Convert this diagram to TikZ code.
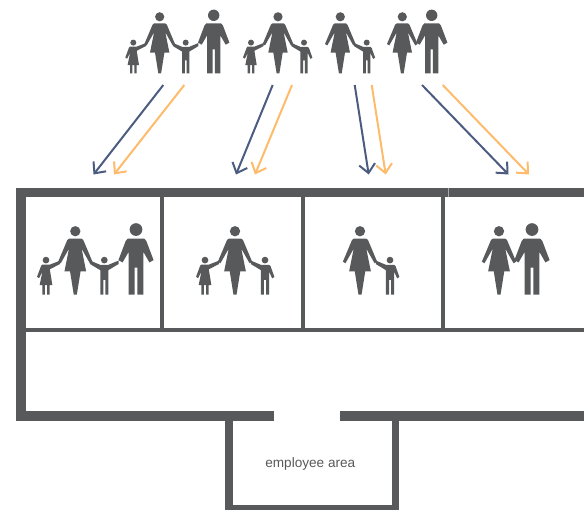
\documentclass[tikz,border=0pt]{standalone}
\usepackage{fontspec}
\setmainfont{Liberation Sans}
\usetikzlibrary{arrows.meta}
\definecolor{wallgray}{HTML}{58595B}
\definecolor{seamgray}{HTML}{A8A9AB}
\definecolor{arrowblue}{HTML}{4C5C80}
\definecolor{arroworange}{HTML}{FDBB6B}
\tikzset{
  x=0.75pt,y=-0.75pt,
  wall/.style={fill=wallgray,draw=none},
  figure part/.style={fill=wallgray,draw=none},
  flow/.style={line width=1.5pt,-{Straight Barb[length=6.6pt,width=12pt,line width=1.5pt]}},
  blueflow/.style={flow,draw=arrowblue},
  orangeflow/.style={flow,draw=arroworange},
  pics/man/.style={code={
    \begin{scope}[yscale=-1]
      \fill[figure part] (0,58) circle[radius=5.7];
      \fill[figure part] (-7.3,50) -- (7.3,50) -- (9.2,47.8) -- (15.7,30.7) -- (12,28.6) -- (6.6,38) -- (6.6,0) -- (1.2,0) -- (1.2,24) -- (-1.2,24) -- (-1.2,0) -- (-6.6,0) -- (-6.6,38) -- (-12,28.6) -- (-15.7,30.7) -- (-9.2,47.8) -- cycle;
    \end{scope}}},
  pics/woman/.style={code={
    \begin{scope}[yscale=-1]
      \fill[figure part] (0,56.5) circle[radius=4.6];
      \fill[figure part] (-5.5,50) -- (5.5,50) -- (7.2,48.5) -- (15.3,29.3) -- (13,27.9) -- (5.6,41) -- (9.7,20.7) -- (4.7,20.7) -- (1.4,0) -- (-1.4,0) -- (-4.7,20.7) -- (-9.7,20.7) -- (-5.6,41) -- (-13,27.9) -- (-15.3,29.3) -- (-7.2,48.5) -- cycle;
    \end{scope}}},
  pics/girl/.style={code={
    \begin{scope}[yscale=-1]
      \fill[figure part] (0,30.7) circle[radius=3];
      \fill[figure part] (-3.5,26.7) -- (3.5,26.7) -- (12.7,30.3) -- (12.7,27.3) -- (3.4,22.5) -- (5.7,8.3) -- (3.3,8.3) -- (3.3,0) -- (1,0) -- (1,8.3) -- (-1,8.3) -- (-1,0) -- (-3.3,0) -- (-3.3,8.3) -- (-5.7,8.3) -- (-3.2,20.5) -- (-6.2,14.6) -- (-8,15.8) -- (-4.4,25.5) -- cycle;
    \end{scope}}},
  pics/boytwo/.style={code={
    \begin{scope}[yscale=-1]
      \fill[figure part] (0,30.7) circle[radius=3];
      \fill[figure part] (-3.7,26.5) -- (3.7,26.5) -- (12.7,30.3) -- (12.7,27.2) -- (3.6,21.7) -- (3.6,0) -- (0.9,0) -- (0.9,13) -- (-0.9,13) -- (-0.9,0) -- (-3.6,0) -- (-3.6,21.7) -- (-12.7,27.2) -- (-12.7,30.3) -- cycle;
    \end{scope}}},
  pics/boyone/.style={code={
    \begin{scope}[yscale=-1]
      \fill[figure part] (0,30.7) circle[radius=3];
      \fill[figure part] (-3.7,26.5) -- (3.7,26.5) -- (5,25.2) -- (8.4,15.6) -- (6.4,14.4) -- (3.6,20.6) -- (3.6,0) -- (0.9,0) -- (0.9,13) -- (-0.9,13) -- (-0.9,0) -- (-3.6,0) -- (-3.6,21.7) -- (-12.7,27.2) -- (-12.7,30.3) -- cycle;
    \end{scope}}}
}
\begin{document}
\begin{tikzpicture}
\useasboundingbox (0,0) rectangle (584,510);
% top row of families
\pic at (133.3,73.3) {girl};
\pic at (159.7,73.3) {woman};
\pic at (185.7,73.3) {boytwo};
\pic at (213.7,73.3) {man};
\pic at (251,73.3) {girl};
\pic at (278,73.3) {woman};
\pic at (304,73.3) {boyone};
\pic at (340.3,73.3) {woman};
\pic at (366.7,73.3) {boyone};
\pic at (402.3,73.3) {woman};
\pic at (431.7,73.3) {man};
% walls
\fill[wall] (16,187.5) rectangle (584,197.3);
\fill[wall] (16,187.5) rectangle (26,421);
\fill[wall] (16,411) rectangle (274,421);
\fill[wall] (339.5,411) rectangle (584,421);
\fill[wall] (225.3,421) rectangle (232.8,510);
\fill[wall] (391.8,421) rectangle (399.3,510);
\fill[wall] (225.3,504.8) rectangle (399.3,510);
\fill[wall] (26,327.6) rectangle (584,332.3);
\fill[wall] (160,197) rectangle (164,328);
\fill[wall] (301.3,197) rectangle (305.3,328);
\fill[wall] (440.7,197) rectangle (445,328);
\draw[seamgray,line width=0.5pt] (448.5,187.5) -- (448.5,197.3);
% families in rooms
\begin{scope}[every pic/.append style={scale=1.12}]
\pic at (46,294.5) {girl};
\pic at (75.3,294.5) {woman};
\pic at (104.3,294.5) {boytwo};
\pic at (136,294.5) {man};
\pic at (205,294.5) {girl};
\pic at (235,294.5) {woman};
\pic at (265,294.5) {boyone};
\pic at (360,294.5) {woman};
\pic at (390,294.5) {boyone};
\pic at (499,294.5) {woman};
\pic at (532,294.5) {man};
\end{scope}
% arrows
\coordinate (b1s) at (163.3,85); \coordinate (b1e) at (93.5,174.5);
\coordinate (o1s) at (184.3,85); \coordinate (o1e) at (114,174.5);
\coordinate (b2s) at (272.7,85); \coordinate (b2e) at (236,174.5);
\coordinate (o2s) at (292,85);   \coordinate (o2e) at (255,174.5);
\coordinate (b3s) at (354.7,85); \coordinate (b3e) at (368.7,174.5);
\coordinate (o3s) at (371.7,85); \coordinate (o3e) at (385.7,174.5);
\coordinate (b4s) at (422,85);   \coordinate (b4e) at (508.5,174.5);
\coordinate (o4s) at (442.7,85); \coordinate (o4e) at (529,174.5);
\draw[blueflow] (b1s) -- (b1e);
\draw[orangeflow] (o1s) -- (o1e);
\draw[blueflow] (b2s) -- (b2e);
\draw[orangeflow] (o2s) -- (o2e);
\draw[blueflow] (b3s) -- (b3e);
\draw[orangeflow] (o3s) -- (o3e);
\draw[blueflow] (b4s) -- (b4e);
\draw[orangeflow] (o4s) -- (o4e);
% label
\node[text=wallgray,font=\fontsize{10.2pt}{12pt}\selectfont,inner sep=0pt] (area) at (310.3,463.5) {employee area};
\end{tikzpicture}
\end{document}
